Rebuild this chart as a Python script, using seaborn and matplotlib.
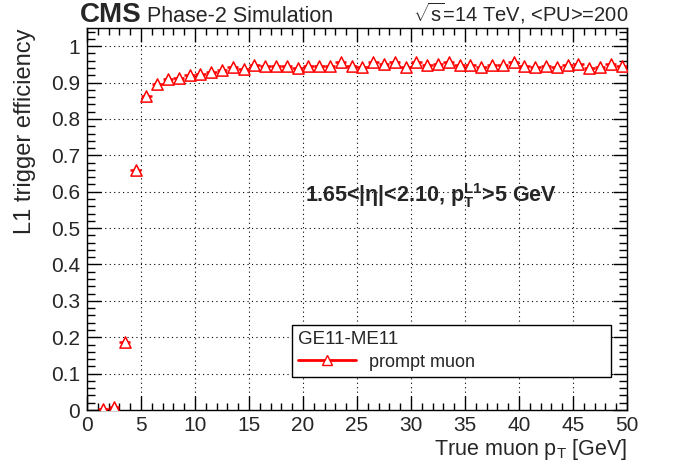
import pandas as pd
import matplotlib
import matplotlib.pyplot as plt
import seaborn as sns
from matplotlib.lines import Line2D
from matplotlib.ticker import MultipleLocator

matplotlib.use('agg')

# Bin centres of true muon pT [GeV] and measured L1 efficiency
pt_bins = [1.5, 2.5, 3.5, 4.5, 5.5, 6.5, 7.5, 8.5, 9.5, 10.5,
           11.5, 12.5, 13.5, 14.5, 15.5, 16.5, 17.5, 18.5, 19.5, 20.5,
           21.5, 22.5, 23.5, 24.5, 25.5, 26.5, 27.5, 28.5, 29.5, 30.5,
           31.5, 32.5, 33.5, 34.5, 35.5, 36.5, 37.5, 38.5, 39.5, 40.5,
           41.5, 42.5, 43.5, 44.5, 45.5, 46.5, 47.5, 48.5, 49.5]
efficiency = [0.002, 0.008, 0.187, 0.659, 0.863, 0.896, 0.909, 0.913, 0.921, 0.924,
              0.928, 0.934, 0.944, 0.936, 0.948, 0.945, 0.946, 0.946, 0.939, 0.946,
              0.946, 0.946, 0.956, 0.946, 0.944, 0.957, 0.951, 0.957, 0.942, 0.956,
              0.948, 0.951, 0.956, 0.948, 0.948, 0.944, 0.948, 0.948, 0.956, 0.946,
              0.944, 0.946, 0.944, 0.948, 0.951, 0.939, 0.942, 0.951, 0.946]
bin_half_width = 0.5

df = pd.DataFrame({'pt': pt_bins, 'eff': efficiency})

sns.set_style('ticks')
plt.rcParams['font.family'] = ['Liberation Sans', 'DejaVu Sans']
plt.rcParams['mathtext.fontset'] = 'custom'
plt.rcParams['mathtext.rm'] = 'Liberation Sans'
plt.rcParams['mathtext.it'] = 'Liberation Sans'
plt.rcParams['mathtext.bf'] = 'Liberation Sans:bold'

fig = plt.figure(figsize=(6.96, 4.72), dpi=100)
ax = fig.add_axes([87 / 696, 62 / 472, 540 / 696, 382 / 472])

# x "error bars" = bin width, then open triangles
ax.errorbar(df['pt'], df['eff'], xerr=bin_half_width, fmt='none',
            ecolor='red', elinewidth=1.8, capsize=0, zorder=3)
sns.scatterplot(data=df, x='pt', y='eff', marker='^', s=65,
                facecolor='white', edgecolor='red', linewidth=1.1,
                ax=ax, zorder=4, legend=False)

ax.set_xlim(0, 50)
ax.set_ylim(0, 1.05)
ax.xaxis.set_major_locator(MultipleLocator(5))
ax.xaxis.set_minor_locator(MultipleLocator(1))
ax.yaxis.set_minor_locator(MultipleLocator(0.02))
ax.set_yticks([i / 10 for i in range(11)])
ax.set_yticklabels(['0', '0.1', '0.2', '0.3', '0.4', '0.5', '0.6', '0.7', '0.8', '0.9', '1'])

ax.tick_params(which='both', direction='in', top=True, right=True,
               labelsize=15, color='black')
ax.tick_params(axis='y', which='major', length=10, width=1, pad=5)
ax.tick_params(axis='y', which='minor', length=6, width=1)
ax.tick_params(axis='x', which='major', length=10, width=1, pad=4)
ax.tick_params(axis='x', which='minor', length=5, width=1)
for sp in ax.spines.values():
    sp.set_color('black')
    sp.set_linewidth(1)

ax.grid(True, which='major', color='black', linestyle=(0, (1, 3)), linewidth=0.8)
ax.set_axisbelow(True)

ax.set_xlabel(r'True muon $\mathrm{p_{T}}$ [GeV]', fontsize=15.5, loc='right', labelpad=2)
ax.set_ylabel('L1 trigger efficiency', fontsize=17, loc='top', labelpad=11)

ax.text(20.2, 0.59, r'1.65<|η|<2.10, $\mathbf{p_{T}^{L1}}$>5 GeV',
        fontsize=15.5, fontweight='bold', va='center', ha='left')

handle = Line2D([], [], color='red', lw=2, marker='^', markersize=7,
                markerfacecolor='white', markeredgecolor='red')
leg = ax.legend([handle], ['prompt muon'], title='GE11-ME11',
                loc='lower left', bbox_to_anchor=(0.3796, 0.0864, 0.5904, 0.128),
                mode='expand', fontsize=13, title_fontsize=13.5,
                alignment='left', frameon=True, fancybox=False,
                edgecolor='black', framealpha=1, handlelength=3.2,
                borderpad=0.35, labelspacing=0.3, handletextpad=0.7,
                borderaxespad=0)
leg.get_frame().set_linewidth(1)

fig.text(80 / 696, 1 - 22 / 472, 'CMS', fontsize=20, fontweight='bold', va='baseline')
fig.text(147 / 696, 1 - 22 / 472, 'Phase-2 Simulation', fontsize=15.5, va='baseline')
fig.text(628 / 696, 1 - 22 / 472, r'$\sqrt{s}$=14 TeV, <PU>=200', fontsize=14.5,
         va='baseline', ha='right')

fig.savefig('out.png', dpi=100)
